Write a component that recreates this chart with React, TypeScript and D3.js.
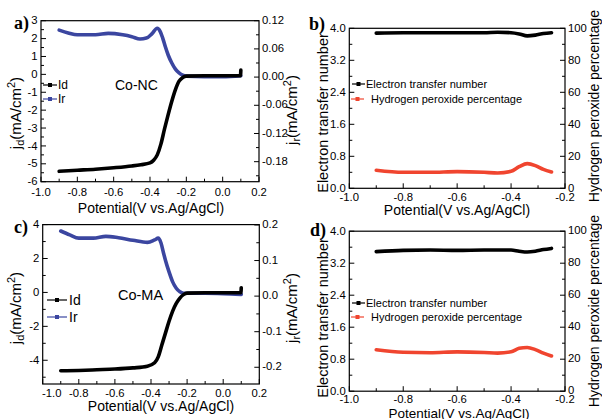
import React from "react";
import * as d3 from "d3";

// ---------- Data ----------
// Panel a (Co-NC)
const aIdX = [-0.9, -0.8, -0.7, -0.6, -0.5, -0.45, -0.4, -0.38, -0.36, -0.34, -0.32, -0.3, -0.28, -0.26, -0.24, -0.22, -0.2, -0.1, 0, 0.098, 0.1];
const aIdY = [-5.42, -5.36, -5.3, -5.22, -5.12, -5.05, -4.95, -4.8, -4.5, -3.9, -3.05, -2.25, -1.5, -0.85, -0.38, -0.18, -0.1, -0.08, -0.08, -0.07, 0.24];
const aIrX = [-0.9, -0.85, -0.8, -0.7, -0.63, -0.55, -0.5, -0.455, -0.42, -0.39, -0.36, -0.345, -0.33, -0.315, -0.3, -0.28, -0.26, -0.24, -0.22, -0.2, -0.1, 0, 0.1];
const aIrY = [0.1, 0.094, 0.09, 0.09, 0.093, 0.09, 0.086, 0.081, 0.083, 0.092, 0.104, 0.098, 0.083, 0.064, 0.047, 0.03, 0.017, 0.009, 0.004, 0.002, 0.001, 0.001, 0.003];
// Panel c (Co-MA)
const cIdX = [-0.9, -0.8, -0.7, -0.6, -0.5, -0.42, -0.38, -0.36, -0.34, -0.32, -0.3, -0.28, -0.26, -0.24, -0.22, -0.2, -0.1, 0, 0.098, 0.1];
const cIdY = [-4.62, -4.6, -4.56, -4.52, -4.45, -4.35, -4.15, -3.8, -3.1, -2.4, -1.7, -1.1, -0.65, -0.33, -0.13, -0.04, -0.02, -0.02, -0.02, 0.28];
const cIrX = [-0.9, -0.85, -0.8, -0.72, -0.65, -0.58, -0.5, -0.42, -0.38, -0.36, -0.345, -0.33, -0.32, -0.3, -0.28, -0.26, -0.24, -0.22, -0.2, -0.1, 0, 0.1];
const cIrY = [0.183, 0.172, 0.163, 0.163, 0.168, 0.164, 0.157, 0.151, 0.158, 0.163, 0.15, 0.12, 0.101, 0.068, 0.04, 0.022, 0.012, 0.008, 0.008, 0.008, 0.007, 0.005];
// Panels b, d
const nX = [-0.9, -0.8, -0.7, -0.6, -0.5, -0.45, -0.4, -0.37, -0.34, -0.31, -0.28, -0.25];
const bN = [3.88, 3.89, 3.89, 3.89, 3.89, 3.9, 3.89, 3.86, 3.81, 3.83, 3.87, 3.89];
const bH2O2 = [11.3, 10.0, 10.0, 10.4, 10.0, 9.6, 10.6, 13.5, 15.4, 14.2, 11.8, 10.2];
const dN = [3.49, 3.52, 3.53, 3.52, 3.53, 3.53, 3.53, 3.5, 3.48, 3.5, 3.54, 3.57];
const dH2O2 = [25.9, 24.3, 24.0, 24.6, 24.2, 23.8, 24.6, 26.8, 27.3, 26.0, 23.8, 22.0];

// Ticks
const xTicksAC = [-1.0, -0.8, -0.6, -0.4, -0.2, 0.0, 0.2];
const xTicksBD = [-1.0, -0.8, -0.6, -0.4, -0.2];
const aLeftTicks = [-6, -5, -4, -3, -2, -1, 0, 1, 2, 3];
const aRightTicks = [-0.18, -0.12, -0.06, 0, 0.06, 0.12];
const cLeftTicks = [-4, -2, 0, 2, 4];
const cRightTicks = [-0.2, -0.1, 0, 0.1, 0.2];
const nTicks = [0, 0.8, 1.6, 2.4, 3.2, 4.0];
const pTicks = [0, 20, 40, 60, 80, 100];

const BLACK = "#000000";
const BLUE = "#3b46a0";
const RED = "#f0452f";
const FONT = "'Liberation Sans', Arial, sans-serif";

const fmt = (f: string) => (v: number) => d3.format(f)(v).replace("−", "-");

type Series = { x: number[]; y: number[]; axis: "L" | "R"; color: string };

function range(a: number, b: number, s: number) {
  const out: number[] = [];
  for (let v = a; v <= b + 1e-9; v += s) out.push(+v.toFixed(6));
  return out;
}

function Panel(p: {
  l: number; r: number; t: number; b: number;
  xDom: [number, number]; yLDom: [number, number]; yRDom: [number, number];
  xTicks: number[]; xMinor: number[]; xFmt: (v: number) => string;
  yLTicks: number[]; yLMinor: number[]; yLFmt: (v: number) => string;
  yRTicks: number[]; yRMinor: number[]; yRFmt: (v: number) => string;
  series: Series[]; firstXdx?: number; xLabelBase: number;
}) {
  const x = d3.scaleLinear().domain(p.xDom).range([p.l, p.r]);
  const yL = d3.scaleLinear().domain(p.yLDom).range([p.b, p.t]);
  const yR = d3.scaleLinear().domain(p.yRDom).range([p.b, p.t]);
  const major = 5, minor = 3;
  const fs = 11.3;
  return (
    <g>
      {p.series.map((s, i) => {
        const ys = s.axis === "L" ? yL : yR;
        const pts: [number, number][] = s.x.map((v, k) => [v, s.y[k]]);
        const line = d3.line<[number, number]>().x(d => x(d[0])).y(d => ys(d[1])).curve(d3.curveMonotoneX);
        return <path key={i} d={line(pts) || ""} fill="none" stroke={s.color} strokeWidth={3.6} strokeLinecap="round" strokeLinejoin="round" />;
      })}
      <rect x={p.l} y={p.t} width={p.r - p.l} height={p.b - p.t} fill="none" stroke="#000" strokeWidth={1.2} />
      {p.xTicks.map((v, i) => (
        <g key={"xt" + i}>
          <line x1={x(v)} x2={x(v)} y1={p.b} y2={p.b - major} stroke="#000" strokeWidth={1} />
          <text x={x(v) + (i === 0 && p.firstXdx ? p.firstXdx : 0)} y={p.b + p.xLabelBase} textAnchor="middle" fontSize={fs} fontFamily={FONT}>{p.xFmt(v)}</text>
        </g>
      ))}
      {p.xMinor.map((v, i) => (
        <line key={"xm" + i} x1={x(v)} x2={x(v)} y1={p.b} y2={p.b - minor} stroke="#000" strokeWidth={1} />
      ))}
      {p.yLTicks.map((v, i) => (
        <g key={"yl" + i}>
          <line x1={p.l} x2={p.l + major} y1={yL(v)} y2={yL(v)} stroke="#000" strokeWidth={1} />
          <text x={p.l - 3.5} y={yL(v) + 3.6} textAnchor="end" fontSize={fs} fontFamily={FONT}>{p.yLFmt(v)}</text>
        </g>
      ))}
      {p.yLMinor.map((v, i) => (
        <line key={"ylm" + i} x1={p.l} x2={p.l + minor} y1={yL(v)} y2={yL(v)} stroke="#000" strokeWidth={1} />
      ))}
      {p.yRTicks.map((v, i) => (
        <g key={"yr" + i}>
          <line x1={p.r} x2={p.r - major} y1={yR(v)} y2={yR(v)} stroke="#000" strokeWidth={1} />
          <text x={p.r + 3} y={yR(v) + 3.2} textAnchor="start" fontSize={fs} fontFamily={FONT}>{p.yRFmt(v)}</text>
        </g>
      ))}
      {p.yRMinor.map((v, i) => (
        <line key={"yrm" + i} x1={p.r} x2={p.r - minor} y1={yR(v)} y2={yR(v)} stroke="#000" strokeWidth={1} />
      ))}
    </g>
  );
}

function LegendItem(pr: { x1: number; x2: number; y: number; color: string; label: string; tx: number; fs: number }) {
  const m = (pr.x1 + pr.x2) / 2;
  return (
    <g>
      <line x1={pr.x1} x2={pr.x2} y1={pr.y} y2={pr.y} stroke={pr.color} strokeWidth={1.2} />
      <rect x={m - 2} y={pr.y - 2} width={4} height={4} fill={pr.color} />
      <text x={pr.tx} y={pr.y + pr.fs * 0.36} fontSize={pr.fs} fontFamily={FONT}>{pr.label}</text>
    </g>
  );
}

function JTitle(pr: { x: number; y: number; sub: string }) {
  return (
    <text transform={`translate(${pr.x},${pr.y}) rotate(-90)`} textAnchor="middle" fontSize={15} fontFamily={FONT}>
      j<tspan fontSize={11} dy={3}>{pr.sub}</tspan><tspan dy={-3}>(mA/cm</tspan><tspan fontSize={11} dy={-6}>2</tspan><tspan dy={6}>)</tspan>
    </text>
  );
}

export default function App() {
  const xf = fmt(".1f");
  const xMinorAC = range(-0.9, 0.1, 0.2);
  const xMinorBD = range(-0.9, -0.3, 0.2);
  return (
    <svg width={602} height={419} style={{ position: "absolute", left: 0, top: 0, background: "#fff" }}>
      <rect width={602} height={419} fill="#fff" />
      <Panel l={41} r={259} t={20.7} b={181.7} xDom={[-1, 0.2]} yLDom={[-6, 3]} yRDom={[-0.2226, 0.12]}
        xTicks={xTicksAC} xMinor={xMinorAC} xFmt={xf}
        yLTicks={aLeftTicks} yLMinor={range(-5.5, 2.5, 1)} yLFmt={fmt("d")}
        yRTicks={aRightTicks} yRMinor={range(-0.21, 0.09, 0.06)} yRFmt={fmt(".2f")}
        xLabelBase={14}
        series={[{ x: aIrX, y: aIrY, axis: "R", color: BLUE }, { x: aIdX, y: aIdY, axis: "L", color: BLACK }]} />
      <Panel l={349.3} r={565} t={28.3} b={188.3} xDom={[-1, -0.2]} yLDom={[0, 4]} yRDom={[0, 100]}
        xTicks={xTicksBD} xMinor={xMinorBD} xFmt={xf}
        yLTicks={nTicks} yLMinor={range(0.4, 3.6, 0.8)} yLFmt={fmt(".1f")}
        yRTicks={pTicks} yRMinor={range(10, 90, 20)} yRFmt={fmt("d")}
        xLabelBase={13}
        series={[{ x: nX, y: bN, axis: "L", color: BLACK }, { x: nX, y: bH2O2, axis: "R", color: RED }]} />
      <Panel l={42.7} r={259.3} t={224.6} b={384} xDom={[-1, 0.2]} yLDom={[-5.4, 4]} yRDom={[-0.247, 0.201]}
        xTicks={xTicksAC} xMinor={xMinorAC} xFmt={xf} firstXdx={9}
        yLTicks={cLeftTicks} yLMinor={range(-5, 3, 2)} yLFmt={fmt("d")}
        yRTicks={cRightTicks} yRMinor={range(-0.15, 0.15, 0.1)} yRFmt={fmt(".1f")}
        xLabelBase={13}
        series={[{ x: cIrX, y: cIrY, axis: "R", color: BLUE }, { x: cIdX, y: cIdY, axis: "L", color: BLACK }]} />
      <Panel l={349.3} r={565} t={231.2} b={391.2} xDom={[-1, -0.2]} yLDom={[0, 4]} yRDom={[0, 100]}
        xTicks={xTicksBD} xMinor={xMinorBD} xFmt={xf}
        yLTicks={nTicks} yLMinor={range(0.4, 3.6, 0.8)} yLFmt={fmt(".1f")}
        yRTicks={pTicks} yRMinor={range(10, 90, 20)} yRFmt={fmt("d")}
        xLabelBase={11.8}
        series={[{ x: nX, y: dN, axis: "L", color: BLACK }, { x: nX, y: dH2O2, axis: "R", color: RED }]} />

      <text x={151} y={213} textAnchor="middle" fontSize={14} fontFamily={FONT}>Potential(V vs.Ag/AgCl)</text>
      <text x={457} y={215} textAnchor="middle" fontSize={14} fontFamily={FONT}>Potential(V vs.Ag/AgCl)</text>
      <text x={161} y={411} textAnchor="middle" fontSize={14} fontFamily={FONT}>Potential(V vs.Ag/AgCl)</text>
      <text x={459} y={417.5} textAnchor="middle" fontSize={13.5} fontFamily={FONT}>Potential(V vs.Ag/AgCl)</text>

      <JTitle x={21} y={113} sub="d" />
      <JTitle x={297} y={110} sub="r" />
      <JTitle x={21} y={308} sub="d" />
      <JTitle x={297} y={308} sub="r" />

      <text transform="translate(328,113) rotate(-90)" textAnchor="middle" fontSize={14.5} fontFamily={FONT}>Electron transfer number</text>
      <text transform="translate(328,318) rotate(-90)" textAnchor="middle" fontSize={14.5} fontFamily={FONT}>Electron transfer number</text>
      <text transform="translate(598.5,106) rotate(-90)" textAnchor="middle" fontSize={14} fontFamily={FONT}>Hydrogen peroxide percentage</text>
      <text transform="translate(598.5,311) rotate(-90)" textAnchor="middle" fontSize={14} fontFamily={FONT}>Hydrogen peroxide percentage</text>

      <text x={14} y={29} fontSize={18} fontWeight="bold" fontFamily="'Liberation Serif', 'Times New Roman', serif">a)</text>
      <text x={309} y={30} fontSize={18} fontWeight="bold" fontFamily="'Liberation Serif', 'Times New Roman', serif">b)</text>
      <text x={14} y={233} fontSize={18} fontWeight="bold" fontFamily="'Liberation Serif', 'Times New Roman', serif">c)</text>
      <text x={310} y={236} fontSize={18} fontWeight="bold" fontFamily="'Liberation Serif', 'Times New Roman', serif">d)</text>

      <LegendItem x1={43} x2={57} y={85} color={BLACK} label="Id" tx={58} fs={12} />
      <LegendItem x1={43} x2={57} y={99} color={BLUE} label="Ir" tx={58} fs={12} />
      <text x={115} y={90} fontSize={14} fontFamily={FONT}>Co-NC</text>

      <LegendItem x1={47} x2={67} y={300} color={BLACK} label="Id" tx={69} fs={14} />
      <LegendItem x1={47} x2={67} y={317} color={BLUE} label="Ir" tx={69} fs={14} />
      <text x={118} y={300} fontSize={14.5} fontFamily={FONT}>Co-MA</text>

      <LegendItem x1={352} x2={365} y={84} color={BLACK} label="Electron transfer number" tx={366} fs={11} />
      <LegendItem x1={351} x2={364} y={99} color={RED} label="Hydrogen peroxide percentage" tx={371} fs={11} />
      <LegendItem x1={352} x2={365} y={303} color={BLACK} label="Electron transfer number" tx={366} fs={11} />
      <LegendItem x1={351} x2={364} y={317} color={RED} label="Hydrogen peroxide percentage" tx={371} fs={11} />
    </svg>
  );
}
